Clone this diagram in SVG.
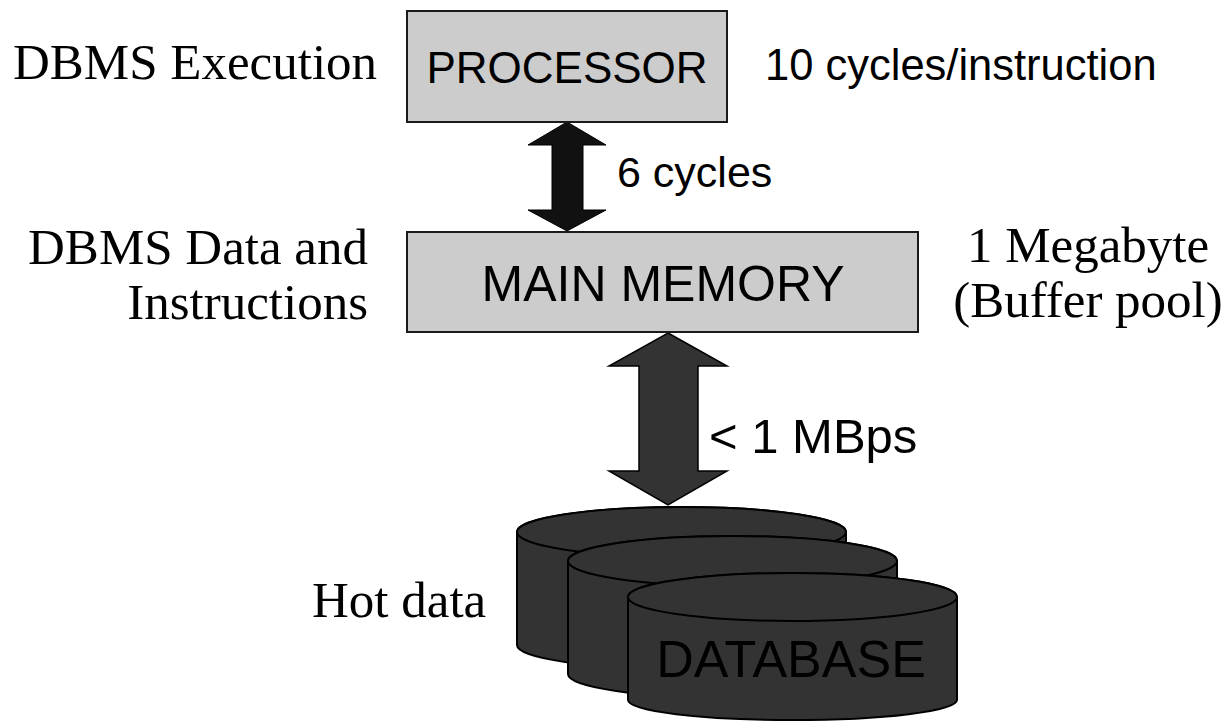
<svg xmlns="http://www.w3.org/2000/svg" width="1230" height="722" viewBox="0 0 1230 722">
<style>
.box{fill:#cccccc;stroke:#1a1a1a;stroke-width:2}
.cyl{fill:#333333;stroke:#000;stroke-width:2}
.sans{font-family:"Liberation Sans",Arial,sans-serif;fill:#000}
.serif{font-family:"Liberation Serif","Times New Roman",serif;fill:#000;font-size:51px}
</style>
<rect width="1230" height="722" fill="#ffffff"/>
<g id="connectors">
<polygon points="567,122 606,145 583,145 583,210 606,210 567,231 528,210 552,210 552,145 528,145" fill="#111111" stroke="#000" stroke-width="1"/>
<polygon points="668,333 727,366 698,366 698,471 727,471 668,505 609,471 639,471 639,366 609,366" fill="#333333" stroke="#000" stroke-width="1.5"/>
<text class="sans" x="617" y="187" font-size="43">6 cycles</text>
<text class="sans" x="709" y="453" font-size="49">&lt; 1 MBps</text>
</g>
<g id="processor">
<rect class="box" x="407" y="11" width="320" height="111"/>
<text class="sans" x="567" y="83" font-size="44" text-anchor="middle">PROCESSOR</text>
</g>
<g id="main-memory">
<rect class="box" x="407" y="232" width="511" height="100"/>
<text class="sans" x="663" y="301" font-size="50" text-anchor="middle">MAIN MEMORY</text>
</g>
<g id="database">
<path class="cyl" d="M517,532 L517,645 A164.5,24 0 0 0 846,645 L846,532 A164.5,25 0 0 0 517,532 Z"/>
<ellipse class="cyl" cx="681.5" cy="532" rx="164.5" ry="25"/>
<path class="cyl" d="M568,561 L568,674 A164.5,24 0 0 0 897,674 L897,561 A164.5,25 0 0 0 568,561 Z"/>
<ellipse class="cyl" cx="732.5" cy="561" rx="164.5" ry="25"/>
<path class="cyl" d="M628,597 L628,700 A164.5,20 0 0 0 957,700 L957,597 A164.5,24 0 0 0 628,597 Z"/>
<ellipse class="cyl" cx="792.5" cy="597" rx="164.5" ry="24"/>
<text class="sans" x="791" y="677" font-size="52" text-anchor="middle">DATABASE</text>
</g>
<g id="labels">
<text class="serif" x="13" y="79" font-size="52">DBMS Execution</text>
<text class="sans" x="765" y="80" font-size="43.5">10 cycles/instruction</text>
<text class="serif" x="368" y="264" text-anchor="end">DBMS Data and</text>
<text class="serif" x="368" y="319" text-anchor="end">Instructions</text>
<text class="serif" x="1088" y="262" text-anchor="middle">1 Megabyte</text>
<text class="serif" x="1088" y="317" text-anchor="middle">(Buffer pool)</text>
<text class="serif" x="312" y="617">Hot data</text>
</g>
</svg>
